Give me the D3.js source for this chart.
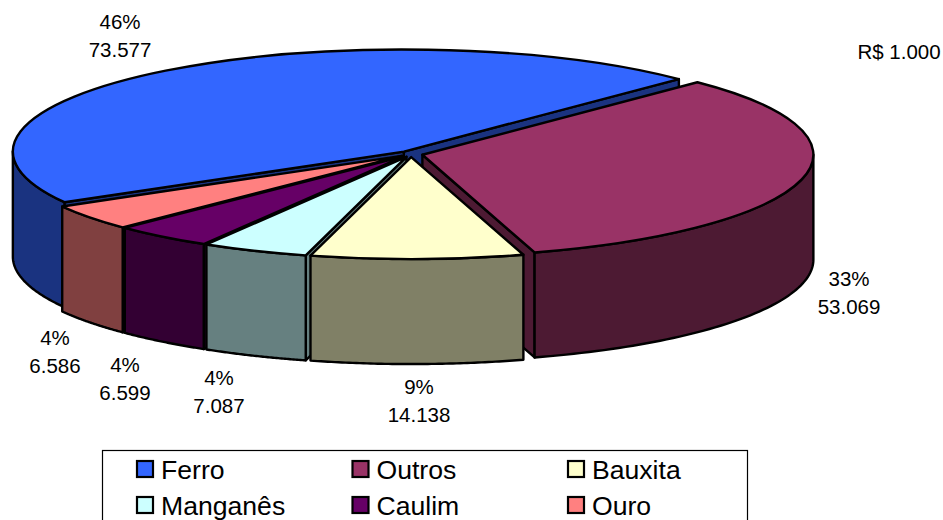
<!DOCTYPE html>
<html>
<head>
<meta charset="utf-8">
<script src="https://cdn.jsdelivr.net/npm/d3@7"></script>
<style>
  html, body { margin: 0; padding: 0; background: #fff; overflow: hidden; }
  svg { display: block; }
  text { font-family: "Liberation Sans", Arial, sans-serif; fill: #000; }
</style>
</head>
<body>
<div id="chart"></div>
<script>
// values
const categories = ["Ferro", "Outros", "Bauxita", "Manganês", "Caulim", "Ouro"];
const values = [73577, 53069, 14138, 7087, 6599, 6586];
const colors = ["#3366FF", "#993366", "#FFFFCC", "#CCFFFF", "#660066", "#FF8080"];
const unitLabel = "R$ 1.000";

// layout of the labels, same order as categories
const labelX = [120, 849, 419, 219, 125, 55];
const labelY = [29, 286, 394, 385, 372, 345];

const width = 943, height = 520;
const cx = 411, cy = 154;
const rx = 391, ry = 102, depth = 105;
const explode = 0.03;
const startDeg = 44.7;

const svg = d3.select("#chart").append("svg")
    .attr("width", width)
    .attr("height", height);

// unit circle to screen
const xScale = d3.scaleLinear().domain([-1, 1]).range([cx - rx, cx + rx]);
const yScale = d3.scaleLinear().domain([-1, 1]).range([cy - ry, cy + ry]);

const rad = startDeg * Math.PI / 180;
const pie = d3.pie().sort(null).startAngle(rad - 2 * Math.PI * values[0] / d3.sum(values))
    .endAngle(rad - 2 * Math.PI * values[0] / d3.sum(values) + 2 * Math.PI);
const slices = pie(values);

const arc = d3.arc().innerRadius(0).outerRadius(rx);
const line = d3.line().x(d => d[0]).y(d => d[1]);
const nf = d3.formatLocale({decimal: ",", thousands: ".", grouping: [3], currency: ["R$", ""]}).format(",d");
const pf = d3.format(".0%");
const total = d3.sum(values);

function darker(c) {
  const o = d3.rgb(c);
  return d3.rgb(o.r * 0.5, o.g * 0.5, o.b * 0.5).formatHex();
}

// back to front, the bauxita slice sits in front of everything
const drawOrder = [0, 5, 4, 3, 1, 2];

drawOrder.forEach(function(i) {
  const s = slices[i];
  const mid = (s.startAngle + s.endAngle) / 2;
  const ox = explode * Math.sin(mid), oy = -explode * Math.cos(mid);
  const px = a => xScale(ox + Math.sin(a));
  const py = a => yScale(oy - Math.cos(a));
  const ax = xScale(ox), ay = yScale(oy);
  const shade = darker(colors[i]);
  const g = svg.append("g").attr("class", "slice");

  function radialFace(a) {
    g.append("path")
        .attr("d", line([[ax, ay], [px(a), py(a)], [px(a), py(a) + depth], [ax, ay + depth]]) + "Z")
        .attr("fill", shade)
        .attr("stroke", "#000")
        .attr("stroke-width", 2.4)
        .attr("stroke-linejoin", "round");
  }

  if (Math.sin(s.startAngle) < 0) radialFace(s.startAngle);
  if (Math.sin(s.endAngle) > 0) radialFace(s.endAngle);

  // outer wall, only the part facing the viewer
  const turn = Math.PI * 2;
  [[Math.PI / 2, Math.PI * 1.5], [Math.PI / 2 - turn, Math.PI * 1.5 - turn]].forEach(function(front) {
    const a0 = Math.max(s.startAngle, front[0]), a1 = Math.min(s.endAngle, front[1]);
    if (a1 <= a0) return;
    const angles = d3.range(0, 61).map(k => a0 + (a1 - a0) * k / 60);
    const top = angles.map(a => [px(a), py(a)]);
    const bottom = angles.slice().reverse().map(a => [px(a), py(a) + depth]);
    g.append("path")
        .attr("d", line(top.concat(bottom)) + "Z")
        .attr("fill", shade)
        .attr("stroke", "#000")
        .attr("stroke-width", 2.4)
        .attr("stroke-linejoin", "round");
  });

  // top face, circle squashed into an ellipse
  g.append("path")
      .attr("d", arc(s))
      .attr("transform", "translate(" + ax + "," + ay + ") scale(1," + (ry / rx) + ")")
      .attr("fill", colors[i])
      .attr("stroke", "#000")
      .attr("stroke-width", 2.4)
      .attr("stroke-linejoin", "round")
      .attr("vector-effect", "non-scaling-stroke");
});

// data labels
const labels = svg.append("g").attr("font-size", 20.5).attr("text-anchor", "middle");
values.forEach(function(v, i) {
  labels.append("text").attr("x", labelX[i]).attr("y", labelY[i]).text(pf(v / total));
  labels.append("text").attr("x", labelX[i]).attr("y", labelY[i] + 27.5).text(nf(v));
});

svg.append("text")
    .attr("x", 899).attr("y", 59)
    .attr("font-size", 20.5)
    .attr("text-anchor", "middle")
    .text(unitLabel);

// legend, its lower edge is cut by the page
const legend = svg.append("g");
legend.append("rect")
    .attr("x", 102.5).attr("y", 450.5)
    .attr("width", 645).attr("height", 90)
    .attr("fill", "#fff")
    .attr("stroke", "#000")
    .attr("stroke-width", 1.2);

const colX = d3.scalePoint().domain([0, 1, 2]).range([137, 568]);
const rowY = d3.scalePoint().domain([0, 1]).range([461, 497]);

categories.forEach(function(name, i) {
  const col = i % 3, row = Math.floor(i / 3);
  legend.append("rect")
      .attr("x", colX(col)).attr("y", rowY(row))
      .attr("width", 16).attr("height", 16)
      .attr("fill", colors[i])
      .attr("stroke", "#000")
      .attr("stroke-width", 2.2);
  legend.append("text")
      .attr("x", colX(col) + 24).attr("y", rowY(row) + 17.5)
      .attr("font-size", 26.6)
      .text(name);
});
</script>
</body>
</html>
